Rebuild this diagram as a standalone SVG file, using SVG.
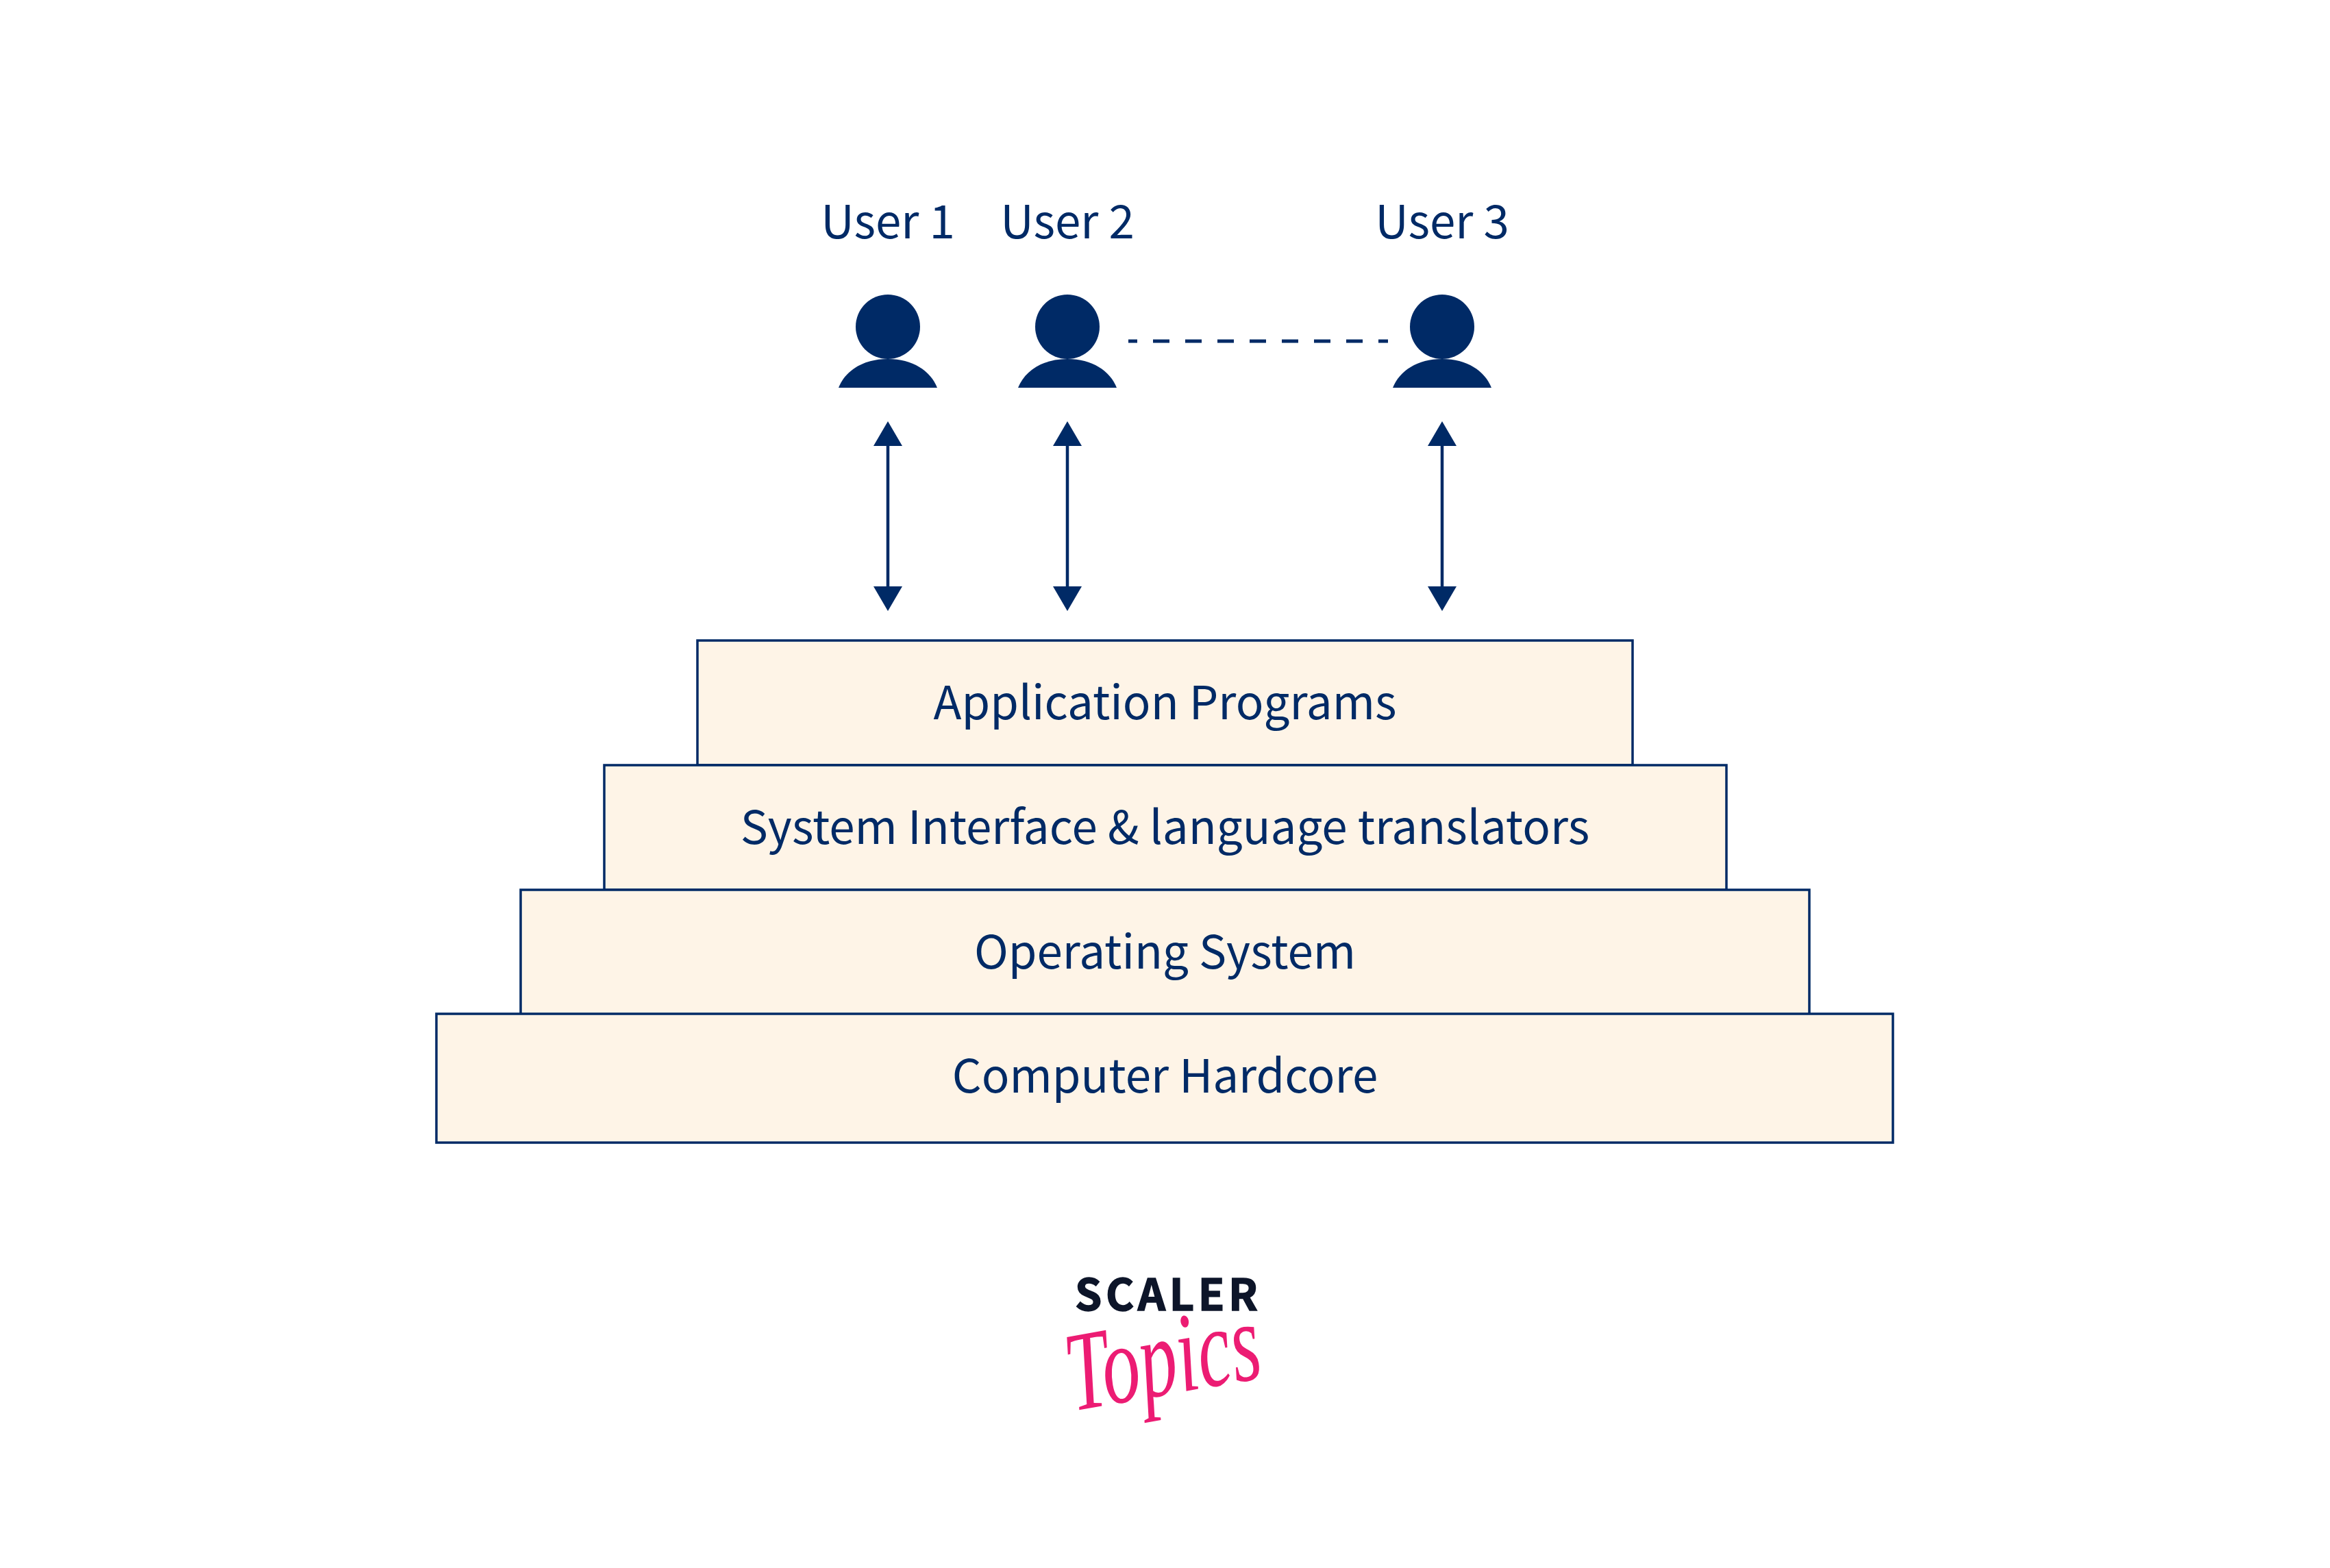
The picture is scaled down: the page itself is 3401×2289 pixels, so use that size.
<svg xmlns="http://www.w3.org/2000/svg" width="3401" height="2289" viewBox="0 0 3401 2289">
<style>
.t{font-family:"Noto Sans CJK SC","Noto Sans",sans-serif;font-size:67.3px;fill:#002a66;text-anchor:middle}
.b{fill:#fef4e7;stroke:#002a66;stroke-width:3.500}
.p{fill:#002a66}
.a{stroke:#002a66;stroke-width:4.5;fill:none}
.d{stroke:#002a66;stroke-width:5;fill:none;stroke-dasharray:24 23;stroke-dashoffset:11}
</style>
<defs>
<g id="person"><ellipse class="p" cx="0" cy="477" rx="47" ry="47"/><path class="p" d="M-72 566C-62 541-36 524 0 524S62 541 72 566Z"/></g>
<g id="arrowheads"><path class="p" d="M0 615L21 651H-21Z"/><path class="p" d="M0 892L21 856H-21Z"/></g>
</defs>
<rect width="3401" height="2289" fill="#fff"/>
<g id="connectors">
<g transform="translate(1296 0)"><path class="a" d="M0 650V857"/><use href="#arrowheads"/></g>
<g transform="translate(1558 0)"><path class="a" d="M0 650V857"/><use href="#arrowheads"/></g>
<g transform="translate(2105 0)"><path class="a" d="M0 650V857"/><use href="#arrowheads"/></g>
<path class="d" d="M1647 498H2026"/>
</g>
<g id="user1"><use href="#person" x="1296"/><text class="t" x="1296" y="348">User 1</text></g>
<g id="user2"><use href="#person" x="1558"/><text class="t" x="1558" y="348">User 2</text></g>
<g id="user3"><use href="#person" x="2105"/><text class="t" x="2105" y="348">User 3</text></g>
<g id="application"><rect class="b" x="1018" y="935" width="1365" height="182"/><text class="t" x="1700.500" y="1050">Application Programs</text></g>
<g id="system-interface"><rect class="b" x="882" y="1117" width="1638" height="182"/><text class="t" x="1700.500" y="1232">System Interface &amp; language translators</text></g>
<g id="operating-system"><rect class="b" x="760" y="1299" width="1881" height="182"/><text class="t" x="1700.500" y="1414">Operating System</text></g>
<g id="hardcore"><rect class="b" x="637" y="1480" width="2126" height="188"/><text class="t" x="1700.500" y="1595">Computer Hardcore</text></g>
<g id="logo">
<text x="1569" y="1913" font-family="'Noto Sans CJK SC','Noto Sans',sans-serif" font-weight="700" font-size="63" stroke="#0d1529" stroke-width="1.500" fill="#0d1529" textLength="267" lengthAdjust="spacing">SCALER</text>
<text transform="translate(1566 2060) rotate(-10)" font-family="'Liberation Serif',serif" font-style="italic" font-size="165" fill="#ec1c73" textLength="285" lengthAdjust="spacingAndGlyphs">Topics</text>
</g>
</svg>
